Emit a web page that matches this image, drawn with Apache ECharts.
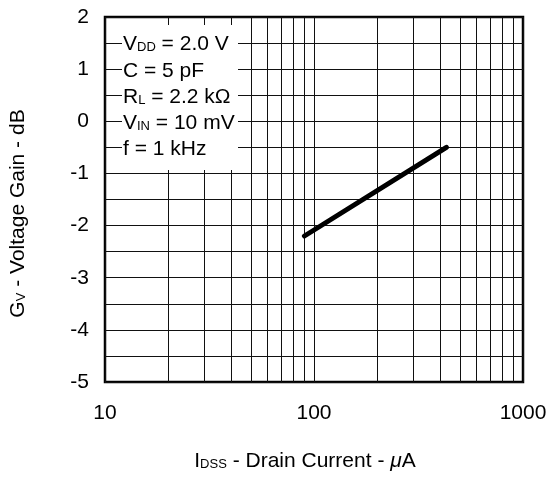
<!DOCTYPE html>
<html><head><meta charset="utf-8">
<script src="https://cdn.jsdelivr.net/npm/echarts@6/dist/echarts.min.js"></script>
<style>html,body{margin:0;padding:0;background:#fff}#c{width:551px;height:477px}</style>
</head><body><div id="c"></div>
<script>
// Data
const xMin = 10, xMax = 1000;
const xMinorLines = [20,30,40,50,60,70,80,90,200,300,400,500,600,700,800,900];
const yMin = -5, yMax = 2;
const drainCurrent = [90, 430];   // µA
const voltageGain = [-2.2, -0.5]; // dB

const FONT = 'Liberation Sans, Arial, Helvetica, sans-serif';
const FS = 21;
const SS = 13;

const chart = echarts.init(document.getElementById('c'), null, {renderer: 'canvas'});
const lineData = drainCurrent.map((x, i) => [x, voltageGain[i]]);

const noteText = [
  '{b|V}{s|DD}{b| = 2.0 V}',
  '{b|C = 5 pF}',
  '{b|R}{s|L}{b| = 2.2 kΩ}',
  '{b|V}{s|IN}{b| = 10 mV}',
  '{b|f = 1 kHz}'
].join('\n');

chart.setOption({
  animation: false,
  backgroundColor: '#fff',
  grid: {left: 104, top: 17, width: 419, height: 366, show: true, borderColor: '#000', borderWidth: 2.5, backgroundColor: 'transparent'},
  xAxis: {
    type: 'log', logBase: 10, min: xMin, max: xMax,
    axisLine: {show: false}, axisTick: {show: false},
    axisLabel: {color: '#000', fontSize: FS, fontFamily: FONT, margin: 21, formatter: v => String(v)},
    splitLine: {show: true, lineStyle: {color: '#111', width: 1}},
    name: '{b|I}{s|DSS}{b| - Drain Current - }{i|μ}{b|A}',
    nameLocation: 'middle', nameGap: 69,
    nameTextStyle: {
      padding: [0, 18, 0, 0],
      rich: {
        b: {fontSize: FS, fontFamily: FONT, color: '#000', verticalAlign: 'bottom'},
        s: {fontSize: SS, fontFamily: FONT, color: '#000', verticalAlign: 'bottom', padding: [0,0,1,0]},
        i: {fontSize: FS, fontFamily: FONT, fontStyle: 'italic', color: '#000', verticalAlign: 'bottom'}
      }
    }
  },
  yAxis: {
    type: 'value', min: yMin, max: yMax, interval: 0.5,
    axisLine: {show: false}, axisTick: {show: false},
    axisLabel: {color: '#000', fontSize: FS, fontFamily: FONT, margin: 16,
      formatter: v => (Number.isInteger(v) ? String(v) : '')},
    splitLine: {show: true, lineStyle: {color: '#111', width: 1}},
    name: '{b|G}{s|V}{b| - Voltage Gain - dB}',
    nameLocation: 'middle', nameGap: 76,
    nameTextStyle: {
      padding: [0, 28, 0, 0],
      rich: {
        b: {fontSize: FS, fontFamily: FONT, color: '#000', verticalAlign: 'bottom'},
        s: {fontSize: SS, fontFamily: FONT, color: '#000', verticalAlign: 'bottom', padding: [0,0,1,0]}
      }
    }
  },
  graphic: [
    {type: 'rect', left: 122, top: 25, z: 100, shape: {width: 116, height: 145}, style: {fill: '#fff'}},
    {type: 'text', left: 123, top: 29, z: 101, style: {
      text: noteText, lineHeight: 26.2,
      rich: {
        b: {fontSize: FS, fontFamily: FONT, fill: '#000', lineHeight: 26.2, verticalAlign: 'bottom'},
        s: {fontSize: SS, fontFamily: FONT, fill: '#000', lineHeight: 26.2, verticalAlign: 'bottom', padding: [0,0,1,0]}
      }
    }}
  ],
  series: [{
    type: 'line', data: lineData, showSymbol: false, symbol: 'none',
    lineStyle: {color: '#000', width: 5, cap: 'round'}, z: 10,
    markLine: {
      silent: true, symbol: ['none', 'none'], animation: false,
      label: {show: false},
      lineStyle: {color: '#111', width: 1, type: 'solid'},
      data: xMinorLines.map(v => ({xAxis: v}))
    }
  }]
});
</script></body></html>
